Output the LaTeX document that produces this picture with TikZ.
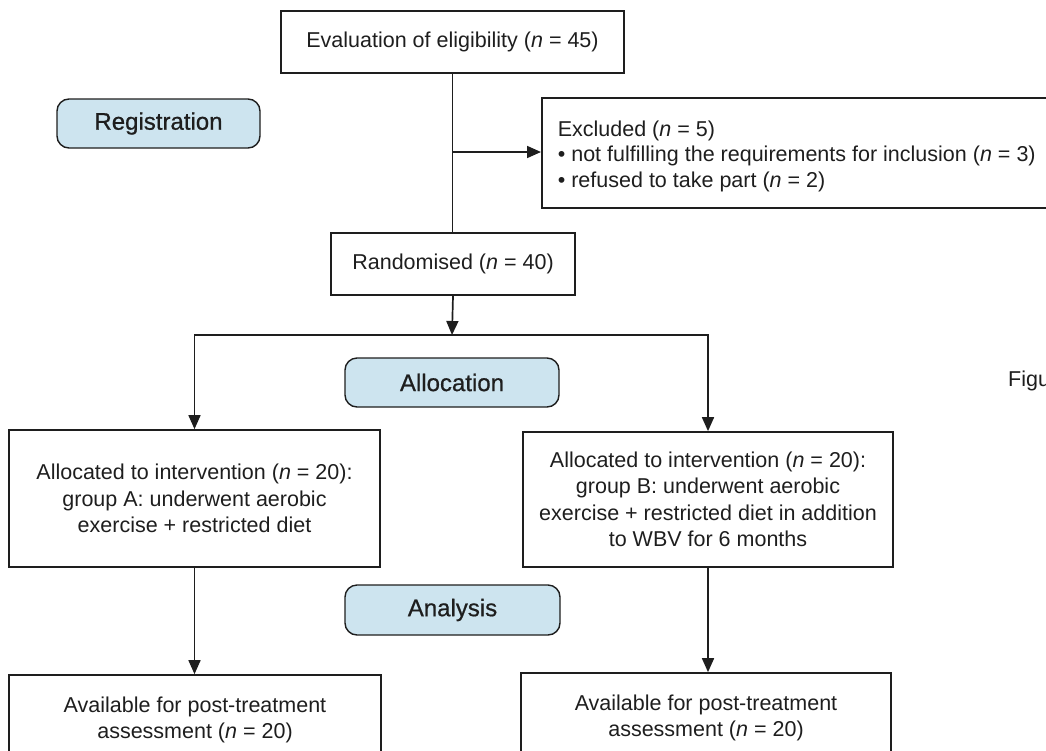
\documentclass[tikz,border=0pt]{standalone}
\usepackage{fontspec}
\setmainfont{Liberation Sans}
\newfontfamily\pillfont[FakeBold=0.7]{Liberation Sans}
\usetikzlibrary{arrows.meta}
\definecolor{pillblue}{HTML}{CDE4EF}
\definecolor{ink}{HTML}{1E1E1E}
\begin{document}
\begin{tikzpicture}[x=1pt,y=-1pt,
  every node/.style={text=ink},
  box/.style={draw=ink,line width=1.7pt,rectangle,align=center,inner sep=0pt,
    font=\fontsize{21.5}{26.5}\selectfont},
  pill/.style={draw=ink,line width=1.4pt,fill=pillblue,rounded corners=12pt,
    inner sep=0pt,font=\pillfont\fontsize{24}{28}\selectfont},
  conn/.style={draw=ink,line width=1.7pt},
  arr/.style={conn,-{Triangle[length=14pt,width=12pt]}},
]
\useasboundingbox (0,0) rectangle (1046,750);
\clip (0,0) rectangle (1046,750);

\node[box,minimum width=343pt,minimum height=62pt] (eval) at (452.5,42)
  {Evaluation of eligibility (\textit{n} = 45)};
\node[pill,minimum width=203pt,minimum height=49pt] (reg) at (158.5,123.5) {Registration};
\node[box,anchor=north west,inner xsep=16pt,inner ysep=0pt] (excl) at (541,97)
  {\begin{minipage}[c][110pt][t]{500pt}\raggedright
   \fontsize{21.5}{25.5}\selectfont\vspace*{23pt}%
   Excluded (\textit{n} = 5)\\
   • not fulfilling the requirements for inclusion (\textit{n} = 3)\\
   • refused to take part (\textit{n} = 2)\end{minipage}};
\node[box,minimum width=244pt,minimum height=62pt] (rand) at (453,264)
  {Randomised (\textit{n} = 40)};
\node[pill,minimum width=214pt,minimum height=49pt] (alloc) at (452,382.5) {Allocation};
\node[box,minimum width=371pt,minimum height=137pt] (A) at (194.5,498.5)
  {Allocated to intervention (\textit{n} = 20):\\group A: underwent aerobic\\exercise + restricted diet};
\node[box,minimum width=370pt,minimum height=135pt] (B) at (708,499.5)
  {Allocated to intervention (\textit{n} = 20):\\group B: underwent aerobic\\exercise + restricted diet in addition\\to WBV for 6 months};
\node[pill,minimum width=215pt,minimum height=50pt] (anal) at (452.5,610) {Analysis};
\node[box,minimum width=372pt,minimum height=90pt] (C) at (195,720)
  {Available for post-treatment\\assessment (\textit{n} = 20)};
\node[box,minimum width=370pt,minimum height=90pt] (D) at (706,718)
  {Available for post-treatment\\assessment (\textit{n} = 20)};
\node[anchor=west,inner sep=0pt,font=\fontsize{21.5}{26}\selectfont] (fig) at (1008,381) {Figu};

\coordinate (branch) at (452,152);
\coordinate (split) at (452,335);

\draw[conn] (eval.south) -- (eval.south |- rand.north);
\draw[arr] (branch) -- (excl.west |- branch);
\draw[arr] (rand.south) -- (split);
\draw[arr] (split) -| (A.north);
\draw[arr] (split) -| (B.north);
\draw[arr] (A.south) -- (A.south |- C.north);
\draw[arr] (B.south) -- (B.south |- D.north);
\end{tikzpicture}
\end{document}
